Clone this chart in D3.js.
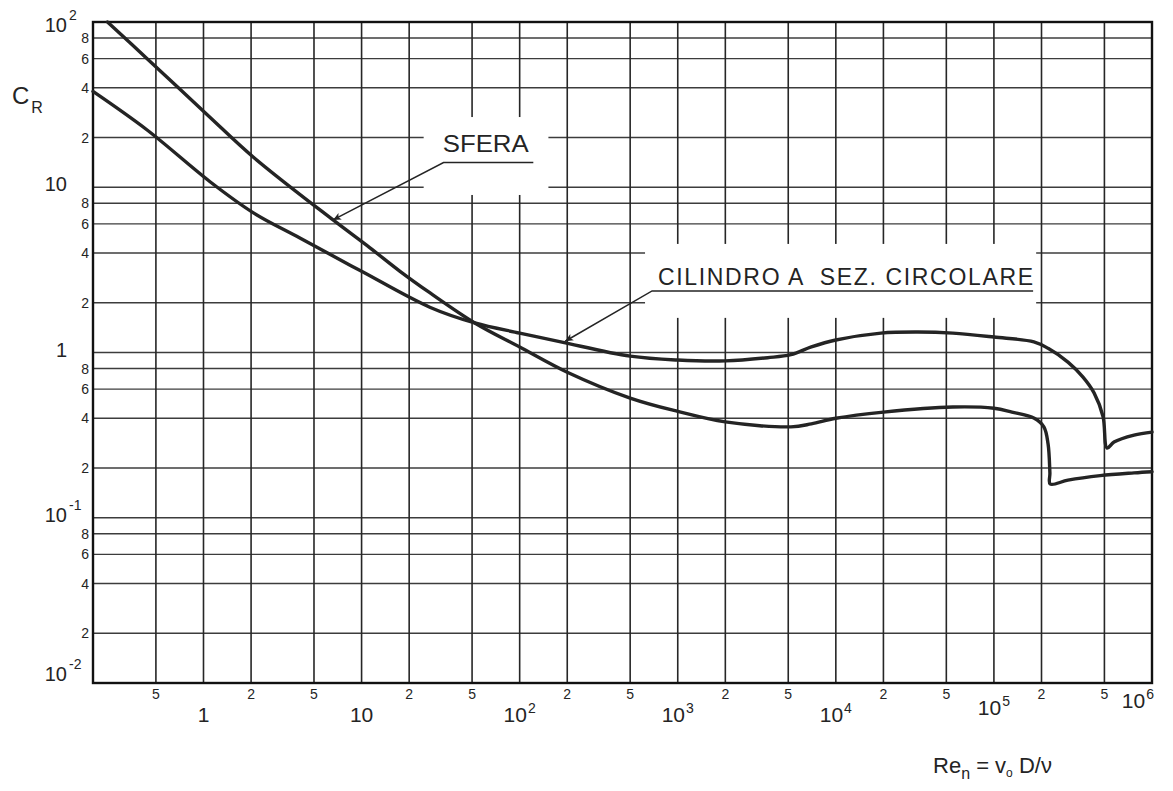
<!DOCTYPE html>
<html><head><meta charset="utf-8">
<script src="https://cdn.jsdelivr.net/npm/d3@7"></script>
<style>html,body{margin:0;padding:0;background:#fff;} svg{display:block;}</style>
</head><body>
<svg id="c" width="1173" height="791"></svg>
<script>
// ---- data ----
const sferaRe = [0.247, 0.44, 1.06, 2.07, 6.6, 11.3, 17.5, 27, 52, 100, 200, 500, 1000, 2000, 5200, 7000, 1e4, 2e4, 5.5e4, 1e5, 1.3e5, 1.8e5, 2.07e5, 2.2e5, 2.26e5, 2.27e5, 2.94e5, 4.7e5, 7.7e5, 1e6];
const sferaCR = [100, 60, 27.4, 15.2, 6.34, 4.3, 3.1, 2.3, 1.51, 1.08, 0.76, 0.53, 0.44, 0.38, 0.355, 0.37, 0.40, 0.436, 0.468, 0.46, 0.436, 0.40, 0.355, 0.28, 0.187, 0.16, 0.169, 0.18, 0.187, 0.19];

const cilRe = [0.2, 0.44, 1.1, 2.07, 4.07, 10, 27, 52, 100, 182, 500, 1000, 2000, 3700, 5200, 7000, 1e4, 1.93e4, 3.3e4, 5.5e4, 1e5, 1.79e5, 2.2e5, 2.94e5, 3.66e5, 4.3e5, 4.9e5, 5.2e5, 5.75e5, 7.7e5, 1e6];
const cilCR = [38, 22.2, 10.8, 7.0, 4.93, 3.1, 1.88, 1.51, 1.31, 1.16, 0.95, 0.90, 0.89, 0.93, 0.97, 1.08, 1.19, 1.31, 1.33, 1.31, 1.24, 1.16, 1.06, 0.875, 0.71, 0.57, 0.41, 0.264, 0.287, 0.316, 0.33];

const xGrid = [0.5, 1, 2, 5, 10, 20, 50, 100, 200, 500, 1e3, 2e3, 5e3, 1e4, 2e4, 5e4, 1e5, 2e5, 5e5];
const yGrid = [0.02, 0.04, 0.06, 0.08, 0.1, 0.2, 0.4, 0.6, 0.8, 1, 2, 4, 6, 8, 10, 20, 40, 60, 80];

const xMinorTicks = [0.5, 2, 5, 20, 50, 200, 500, 2000, 5000, 2e4, 5e4, 2e5, 5e5];
const xMinorLabels = ["5", "2", "5", "2", "5", "2", "5", "2", "5", "2", "5", "2", "5"];
const xDecadeTicks = [1, 10, 100, 1e3, 1e4, 1e5, 1e6];
const xDecadeBase = ["1", "10", "10", "10", "10", "10", "10"];
const xDecadeExp = ["", "", "2", "3", "4", "5", "6"];

const yMinorTicks = [80, 60, 40, 20, 8, 6, 4, 2, 0.8, 0.6, 0.4, 0.2, 0.08, 0.06, 0.04, 0.02];
const yMinorLabels = ["8", "6", "4", "2", "8", "6", "4", "2", "8", "6", "4", "2", "8", "6", "4", "2"];
const yDecadeTicks = [100, 10, 1, 0.1, 0.01];
const yDecadeBase = ["10", "10", "1", "10", "10"];
const yDecadeExp = ["2", "", "", "-1", "-2"];

// annotations (data coordinates)
const sferaText = "SFERA";
const sferaLeader = [[122, 14.1], [33, 14.1], [6.6, 6.34]];
const sferaTextAt = [32.6, 16.3];
const sferaBox = [[24.7, 26.6], [152, 8.98]];
const cilText = "CILINDRO A  SEZ. CIRCOLARE";
const cilLeader = [[1.77e5, 2.36], [688, 2.36], [194, 1.17]];
const cilTextAt = [750, 2.56];
const cilBox = [[621, 4.54], [1.85e5, 1.62]];

// ---- drawing ----
const svg = d3.select("#c");
const FONT = "'Liberation Sans', Arial, sans-serif";
const x = d3.scaleLog().domain([0.2, 1e6]).range([93, 1152]);
const y = d3.scaleLog().domain([0.01, 100]).range([683, 22]);
const ink = "#242424";

svg.append("rect").attr("width", 1173).attr("height", 791).attr("fill", "#fff");

// grid
svg.append("g").selectAll("line").data(yGrid).join("line")
  .attr("x1", x(0.2)).attr("x2", x(1e6))
  .attr("y1", d => y(d)).attr("y2", d => y(d))
  .attr("stroke", "#3c3c3c").attr("stroke-width", 1.4);
svg.append("g").selectAll("line").data(xGrid).join("line")
  .attr("x1", d => x(d)).attr("x2", d => x(d))
  .attr("y1", y(100)).attr("y2", y(0.01))
  .attr("stroke", "#262626").attr("stroke-width", 1.6);

// label clearings
[sferaBox, cilBox].forEach(b => {
  svg.append("rect")
    .attr("x", x(b[0][0])).attr("y", y(b[0][1]))
    .attr("width", x(b[1][0]) - x(b[0][0]))
    .attr("height", y(b[1][1]) - y(b[0][1]))
    .attr("fill", "#fff");
});

// border
svg.append("rect")
  .attr("x", x(0.2)).attr("y", y(100))
  .attr("width", x(1e6) - x(0.2)).attr("height", y(0.01) - y(100))
  .attr("fill", "none").attr("stroke", "#111").attr("stroke-width", 2.4);

// curves
const line = d3.line().x(d => x(d[0])).y(d => y(d[1])).curve(d3.curveCatmullRom.alpha(0.5));
const sfera = d3.zip(sferaRe, sferaCR);
const cil = d3.zip(cilRe, cilCR);
[sfera, cil].forEach(s => {
  svg.append("path").attr("d", line(s)).attr("fill", "none")
    .attr("stroke", ink).attr("stroke-width", 3.4)
    .attr("stroke-linejoin", "round").attr("stroke-linecap", "round");
});

// leaders
const defs = svg.append("defs");
defs.append("marker").attr("id", "ah").attr("viewBox", "0 0 10 10")
  .attr("refX", 10).attr("refY", 5).attr("markerWidth", 13).attr("markerHeight", 8)
  .attr("markerUnits", "userSpaceOnUse").attr("orient", "auto")
  .append("path").attr("d", "M0,0.5 L10,5 L0,9.5 L2.5,5 z").attr("fill", ink);
const lead = d3.line().x(d => x(d[0])).y(d => y(d[1]));
[sferaLeader, cilLeader].forEach(l => {
  svg.append("path").attr("d", lead(l)).attr("fill", "none")
    .attr("stroke", ink).attr("stroke-width", 1.5).attr("marker-end", "url(#ah)");
});

// annotation text
svg.append("text").attr("x", x(sferaTextAt[0])).attr("y", y(sferaTextAt[1]))
  .attr("font-family", FONT).attr("font-size", 23).attr("fill", ink)
  .attr("textLength", 86).attr("lengthAdjust", "spacingAndGlyphs").text(sferaText);
svg.append("text").attr("x", x(cilTextAt[0])).attr("y", y(cilTextAt[1]))
  .attr("font-family", FONT).attr("font-size", 23).attr("fill", ink)
  .attr("textLength", 375).attr("lengthAdjust", "spacing")
  .style("white-space", "pre").attr("xml:space", "preserve").text(cilText);

// x minor labels
svg.append("g").selectAll("text").data(xMinorTicks).join("text")
  .attr("x", d => x(d)).attr("y", 699).attr("text-anchor", "middle")
  .attr("font-family", FONT).attr("font-size", 14).attr("fill", ink)
  .text((d, i) => xMinorLabels[i]);

// x decade labels
xDecadeTicks.forEach((v, i) => {
  const last = i === xDecadeTicks.length - 1;
  const t = svg.append("text")
    .attr("x", last ? x(v) + 2 : x(v)).attr("y", 722 - Math.max(0, i - 4) * 7)
    .attr("text-anchor", last ? "end" : "middle")
    .attr("font-family", FONT).attr("font-size", 21).attr("fill", ink);
  t.append("tspan").text(xDecadeBase[i]);
  if (xDecadeExp[i]) t.append("tspan").attr("font-size", 14).attr("dy", -9).attr("dx", 1).text(xDecadeExp[i]);
});

// y minor labels
svg.append("g").selectAll("text").data(yMinorTicks).join("text")
  .attr("x", 89).attr("y", d => y(d) + 5).attr("text-anchor", "end")
  .attr("font-family", FONT).attr("font-size", 14).attr("fill", ink)
  .text((d, i) => yMinorLabels[i]);

// y decade labels
yDecadeTicks.forEach((v, i) => {
  const off = i === 0 ? 3 : (i === yDecadeTicks.length - 1 ? -9 : -3);
  const cy = y(v) + off;
  svg.append("text").attr("x", 67).attr("y", cy + 7).attr("text-anchor", "end")
    .attr("font-family", FONT).attr("font-size", 20).attr("fill", ink).text(yDecadeBase[i]);
  if (yDecadeExp[i]) {
    svg.append("text").attr("x", 69).attr("y", cy - 5).attr("text-anchor", "start")
      .attr("font-family", FONT).attr("font-size", 14).attr("fill", ink).text(yDecadeExp[i]);
  }
});

// axis titles
const cr = svg.append("text").attr("x", 12).attr("y", 104)
  .attr("font-family", FONT).attr("font-size", 24).attr("fill", ink);
cr.append("tspan").text("C");
cr.append("tspan").attr("font-size", 16).attr("dy", 9).attr("dx", 2).text("R");

const re = svg.append("text").attr("x", 933).attr("y", 773)
  .attr("font-family", FONT).attr("font-size", 22).attr("fill", ink);
re.append("tspan").text("Re");
re.append("tspan").attr("font-size", 16).attr("dy", 6).text("n");
re.append("tspan").attr("dy", -6).text(" = v");
re.append("tspan").attr("font-size", 12).attr("dy", 4).text("o");
re.append("tspan").attr("dy", -4).text(" D/ν");
</script>
</body></html>
